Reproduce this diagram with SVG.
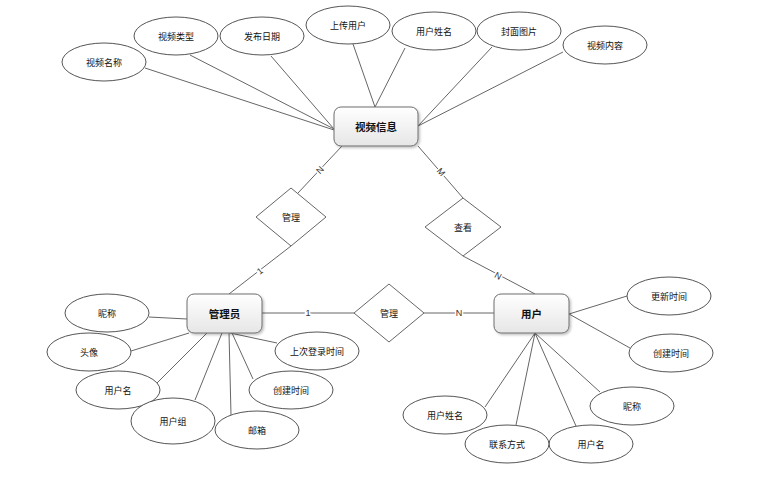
<svg xmlns="http://www.w3.org/2000/svg" width="763" height="478" viewBox="0 0 763 478">
<defs>
<linearGradient id="eg" x1="0" y1="0" x2="0" y2="1">
<stop offset="0" stop-color="#ffffff"/>
<stop offset="1" stop-color="#e6e6e6"/>
</linearGradient>
<filter id="sh" x="-10%" y="-10%" width="130%" height="140%">
<feDropShadow dx="1.5" dy="1.5" stdDeviation="1" flood-color="#000" flood-opacity="0.25"/>
</filter>
<style>
.ell{fill:#fff;stroke:#555;stroke-width:1}
.ent{fill:url(#eg);stroke:#6e6e6e;stroke-width:1;filter:url(#sh)}
.dia{fill:#fff;stroke:#666;stroke-width:1}
.ln{stroke:#666;stroke-width:1;fill:none}
text{font-family:"Noto Sans CJK SC","Liberation Sans",sans-serif;text-anchor:middle;dominant-baseline:central;fill:#111}
.at{font-size:9px}
.et{font-size:10.5px;font-weight:bold}
.rt{font-size:9px}
.cd{font-family:"Liberation Sans",sans-serif;font-size:9px;fill:#333;paint-order:stroke;stroke:#fff;stroke-width:3}
</style>
</defs>
<rect width="763" height="478" fill="#fff"/>
<g id="connectors">
<line class="ln" x1="145" y1="68" x2="334" y2="130"/>
<line class="ln" x1="190" y1="55" x2="334" y2="129"/>
<line class="ln" x1="271" y1="56" x2="334" y2="129"/>
<line class="ln" x1="353" y1="44" x2="375" y2="107"/>
<line class="ln" x1="405" y1="48" x2="375" y2="107"/>
<line class="ln" x1="492" y1="47" x2="418" y2="126"/>
<line class="ln" x1="563" y1="52" x2="418" y2="126"/>
<line class="ln" x1="342" y1="146" x2="298" y2="193"/>
<line class="ln" x1="291" y1="246" x2="229" y2="294"/>
<line class="ln" x1="418" y1="146" x2="463" y2="198"/>
<line class="ln" x1="463" y1="256" x2="535" y2="294"/>
<line class="ln" x1="262" y1="313" x2="354" y2="313"/>
<line class="ln" x1="424" y1="313" x2="494" y2="313"/>
<line class="ln" x1="149" y1="317" x2="187" y2="319"/>
<line class="ln" x1="131" y1="351" x2="189" y2="333"/>
<line class="ln" x1="157" y1="383" x2="207" y2="333"/>
<line class="ln" x1="195" y1="400" x2="222" y2="333"/>
<line class="ln" x1="231" y1="415" x2="229" y2="333"/>
<line class="ln" x1="253" y1="379" x2="232" y2="333"/>
<line class="ln" x1="277" y1="343" x2="230" y2="333"/>
<line class="ln" x1="569" y1="314" x2="627" y2="296"/>
<line class="ln" x1="569" y1="314" x2="630" y2="348"/>
<line class="ln" x1="600" y1="392" x2="535" y2="333"/>
<line class="ln" x1="576" y1="426" x2="535" y2="333"/>
<line class="ln" x1="516" y1="425" x2="535" y2="333"/>
<line class="ln" x1="485" y1="407" x2="535" y2="333"/>
<text class="cd" transform="translate(320,170) rotate(-47)">N</text>
<text class="cd" transform="translate(260,271) rotate(-37)">1</text>
<text class="cd" transform="translate(441,172) rotate(49)">M</text>
<text class="cd" transform="translate(498,276) rotate(28)">N</text>
<text class="cd" x="308" y="313">1</text>
<text class="cd" x="459" y="313">N</text>
</g>
<g id="video"><rect class="ent" x="334" y="107" width="84" height="39" rx="7"/><text class="et" x="376" y="126.5">视频信息</text></g>
<g id="admin"><rect class="ent" x="187" y="294" width="75" height="39" rx="7"/><text class="et" x="224.5" y="313.5">管理员</text></g>
<g id="user"><rect class="ent" x="494" y="294" width="75" height="39" rx="7"/><text class="et" x="531.5" y="313.5">用户</text></g>
<g id="rel-manage1"><polygon class="dia" points="291,188 326,217 291,246 256,217"/><text class="rt" x="291" y="217">管理</text></g>
<g id="rel-view"><polygon class="dia" points="463,198 501,227 463,256 425,227"/><text class="rt" x="463" y="227">查看</text></g>
<g id="rel-manage2"><polygon class="dia" points="389,284 424,313 389,342 354,313"/><text class="rt" x="389" y="313">管理</text></g>
<g id="a-vname"><ellipse class="ell" cx="104" cy="62" rx="42" ry="19"/><text class="at" x="104" y="62">视频名称</text></g>
<g id="a-vtype"><ellipse class="ell" cx="176" cy="36" rx="42" ry="19"/><text class="at" x="176" y="36">视频类型</text></g>
<g id="a-date"><ellipse class="ell" cx="262" cy="36" rx="42" ry="19"/><text class="at" x="262" y="36">发布日期</text></g>
<g id="a-uploader"><ellipse class="ell" cx="348" cy="25" rx="42" ry="19"/><text class="at" x="348" y="25">上传用户</text></g>
<g id="a-uname"><ellipse class="ell" cx="434" cy="31" rx="42" ry="19"/><text class="at" x="434" y="31">用户姓名</text></g>
<g id="a-cover"><ellipse class="ell" cx="519" cy="31" rx="42" ry="19"/><text class="at" x="519" y="31">封面图片</text></g>
<g id="a-content"><ellipse class="ell" cx="605" cy="45" rx="42" ry="19"/><text class="at" x="605" y="45">视频内容</text></g>
<g id="m-nick"><ellipse class="ell" cx="107" cy="313" rx="42" ry="19"/><text class="at" x="107" y="313">昵称</text></g>
<g id="m-avatar"><ellipse class="ell" cx="89" cy="352" rx="42" ry="19"/><text class="at" x="89" y="352">头像</text></g>
<g id="m-username"><ellipse class="ell" cx="118" cy="390" rx="42" ry="19"/><text class="at" x="118" y="390">用户名</text></g>
<g id="m-group"><ellipse class="ell" cx="173" cy="421" rx="42" ry="23"/><text class="at" x="173" y="421">用户组</text></g>
<g id="m-mail"><ellipse class="ell" cx="257" cy="430" rx="42" ry="19"/><text class="at" x="257" y="430">邮箱</text></g>
<g id="m-created"><ellipse class="ell" cx="291" cy="390" rx="42" ry="19"/><text class="at" x="291" y="390">创建时间</text></g>
<g id="m-lastlogin"><ellipse class="ell" cx="317" cy="351" rx="42" ry="19"/><text class="at" x="317" y="351">上次登录时间</text></g>
<g id="u-updated"><ellipse class="ell" cx="669" cy="296" rx="42" ry="19"/><text class="at" x="669" y="296">更新时间</text></g>
<g id="u-created"><ellipse class="ell" cx="671" cy="353" rx="42" ry="19"/><text class="at" x="671" y="353">创建时间</text></g>
<g id="u-nick"><ellipse class="ell" cx="632" cy="406" rx="42" ry="19"/><text class="at" x="632" y="406">昵称</text></g>
<g id="u-username"><ellipse class="ell" cx="591" cy="444" rx="42" ry="19"/><text class="at" x="591" y="444">用户名</text></g>
<g id="u-contact"><ellipse class="ell" cx="507" cy="444" rx="42" ry="19"/><text class="at" x="507" y="444">联系方式</text></g>
<g id="u-realname"><ellipse class="ell" cx="445" cy="415" rx="42" ry="19"/><text class="at" x="445" y="415">用户姓名</text></g>
</svg>
